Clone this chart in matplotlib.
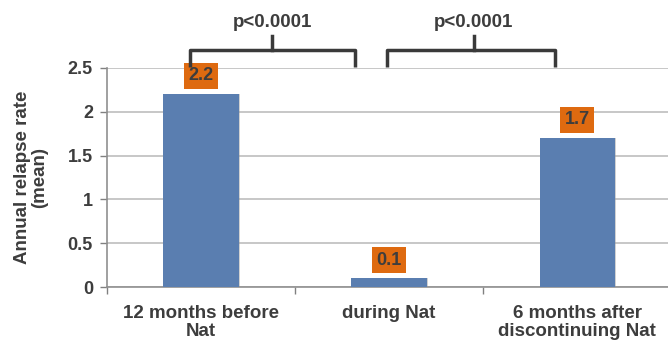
import matplotlib.pyplot as plt
import numpy as np

plt.rcParams['font.family'] = ['Liberation Sans', 'DejaVu Sans']

# relapse rate data
categories = ['12 months before\nNat', 'during Nat', '6 months after\ndiscontinuing Nat']
relapse_rate = [2.2, 0.1, 1.7]
value_labels = ['2.2', '0.1', '1.7']
yticks = [0, 0.5, 1, 1.5, 2, 2.5]
ytick_labels = ['0', '0.5', '1', '1.5', '2', '2.5']
# comparisons: (x start, x end, x of the notch, text)
comparisons = [(-0.06, 0.82, 0.38, 'p<0.0001'), (0.99, 1.88, 1.45, 'p<0.0001')]

text_color = '#3d3d3d'
bar_color = '#5A7EB0'
box_color = '#DE6A10'
grid_color = '#BDBDBD'

fig = plt.figure(figsize=(6.68, 3.5), dpi=100)
ax = fig.add_axes([0.160, 0.18, 0.845, 0.626])

x = np.arange(len(categories))
ax.bar(x + 0.008, relapse_rate, width=0.4, color='#9a9a9a', alpha=0.45, zorder=2)
bars = ax.bar(x, relapse_rate, width=0.4, color=bar_color, zorder=3)

for xi, val, lab in zip(x, relapse_rate, value_labels):
    ax.annotate(lab, (xi, val), xytext=(0, 7), textcoords='offset points',
                ha='center', va='bottom', fontsize=13, fontweight='bold', color=text_color,
                bbox=dict(boxstyle='square,pad=0.25', fc=box_color, ec='none'), zorder=4)

ax.set_xlim(-0.5, 2.5)
ax.set_ylim(0, 2.5)
ax.set_yticks(yticks)
ax.set_yticklabels(ytick_labels, fontsize=13, fontweight='bold', color=text_color)
ax.yaxis.grid(True, color=grid_color, linewidth=1.2, zorder=0)
ax.set_axisbelow(True)

# category labels between boundary ticks
ax.set_xticks([-0.5, 0.5, 1.5, 2.5])
ax.set_xticklabels([])
ax.set_xticks(x, minor=True)
ax.set_xticklabels(categories, minor=True, fontsize=13.5, fontweight='bold', color=text_color,
                   linespacing=1.1)
ax.tick_params(axis='x', which='minor', length=0, pad=13)
ax.tick_params(axis='x', which='major', length=5, color='#808080', width=1)
ax.tick_params(axis='y', length=5, color='#808080', width=1, pad=5)

for s in ['top', 'right']:
    ax.spines[s].set_visible(False)
ax.spines['left'].set_color('#909090')
ax.spines['bottom'].set_color('#909090')
ax.spines['left'].set_linewidth(1.2)
ax.spines['bottom'].set_linewidth(1.2)

ax.set_ylabel('Annual relapse rate\n(mean)', fontsize=13.5, fontweight='bold', color=text_color,
              labelpad=14, linespacing=1.0)

# significance brackets
for x0, x1, xm, txt in comparisons:
    ax.plot([x0, x0, x1, x1], [2.51, 2.705, 2.705, 2.51], color='#3a3a3a', lw=2.5,
            solid_joinstyle='round', solid_capstyle='butt', clip_on=False, zorder=5)
    ax.plot([xm, xm], [2.705, 2.86], color='#3a3a3a', lw=2.5, clip_on=False, zorder=5)
    ax.text(xm, 2.92, txt, ha='center', va='bottom', fontsize=13.5, fontweight='bold',
            color=text_color, clip_on=False)

fig.savefig('out.png', dpi=100)
